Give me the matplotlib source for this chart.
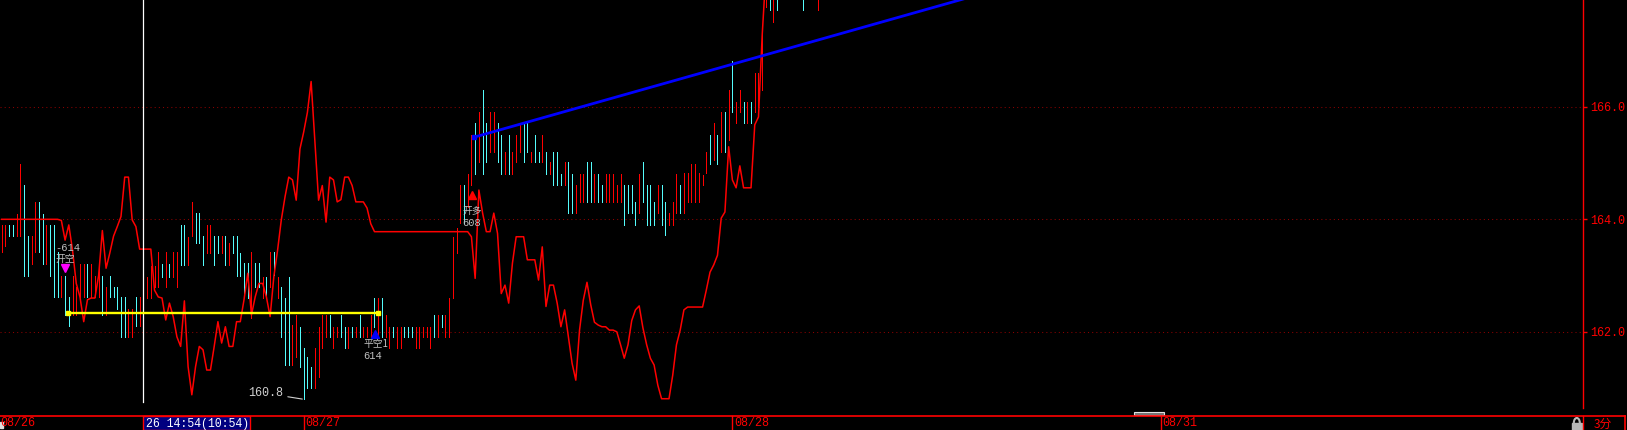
import numpy as np
import matplotlib
matplotlib.use("Agg")
import matplotlib.pyplot as plt
from matplotlib.transforms import blended_transform_factory
from matplotlib.patches import Rectangle, Arc
from matplotlib.lines import Line2D

plt.rcParams['font.family'] = ['Noto Sans CJK SC', 'DejaVu Sans']
MONO = ['Liberation Mono', 'DejaVu Sans Mono']
CJK = ['Noto Sans CJK SC', 'DejaVu Sans']

nan = np.nan
# ---------------- data (3-minute bars, index = bar number) ----------------
bar_high = [
    163.90, 163.90, 163.90, 163.90, 164.09, 164.99, 164.61, 163.70, 163.70, 164.31,
    164.31, 164.09, 163.90, 163.90, 163.90, 163.41, 162.99, 162.99, 162.61, 162.99,
    162.80, 163.20, 163.20, 163.20, 163.20, 162.99, 163.20, 162.99, 162.80, 162.99,
    162.80, 162.80, 162.61, 162.61, 162.40, 162.40, 162.61, 162.61, 162.61, 162.98,
    163.17, 163.17, 163.41, 163.21, 163.41, 163.21, 163.41, 163.41, 163.90, 163.90,
    163.69, 164.31, 164.11, 164.11, 163.70, 163.90, 163.90, 163.70, 163.70, 163.70,
    163.70, 163.58, 163.70, 163.70, 163.40, 163.22, 163.22, 163.42, 163.22, 163.22,
    162.98, 162.98, 163.42, 163.42, 162.98, 162.80, 162.60, 162.98, 162.12, 162.30,
    162.09, 161.71, 161.56, 161.38, 161.71, 162.09, 162.30, 162.30, 162.30, 162.09,
    162.09, 162.30, 162.09, 162.09, 162.09, 162.09, 162.30, 162.09, 162.09, 162.30,
    162.60, 162.60, 162.60, 162.30, 162.09, 162.09, 162.09, 162.09, 162.09, 162.09,
    162.09, 162.09, 162.09, 162.09, 162.09, 162.09, 162.30, 162.30, 162.30, 162.30,
    162.60, 163.69, 163.85, 164.61, 164.61, 164.81, 165.50, 165.72, 165.91, 166.30,
    165.72, 165.91, 165.91, 165.72, 165.50, 165.20, 165.50, 165.20, 165.50, 165.72,
    165.72, 165.72, 165.20, 165.50, 165.20, 165.50, 165.20, 165.01, 165.20, 165.20,
    164.81, 165.01, 165.01, 164.81, 164.61, 164.81, 164.81, 165.01, 165.01, 164.81,
    164.81, 164.61, 164.81, 164.81, 164.81, 164.61, 164.81, 164.61, 164.61, 164.61,
    164.31, 164.81, 165.01, 164.61, 164.61, 164.31, 164.61, 164.61, 164.31, 164.11,
    164.31, 164.81, 164.61, 164.82, 164.82, 164.99, 164.99, 164.82, 164.79, 165.20,
    165.50, 165.71, 165.50, 165.91, 165.91, 166.30, 166.81, 166.09, 166.30, 166.09,
    166.09, 166.09, 166.60, 166.60, 167.31, 168.30, 168.30, 168.30, 168.30, nan,
    nan, nan, nan, nan, nan, 168.30, nan, nan, nan, 168.30,
]
bar_low = [
    163.41, 163.52, 163.70, 163.70, 163.70, 163.70, 162.99, 162.99, 163.20, 163.41,
    163.41, 163.20, 163.20, 162.99, 162.61, 162.61, 162.61, 162.30, 162.10, 162.30,
    162.30, 162.61, 162.61, 162.61, 162.61, 162.61, 162.61, 162.30, 162.30, 162.61,
    162.61, 162.40, 161.91, 161.91, 161.91, 161.91, 162.10, 162.10, 162.10, 162.60,
    162.60, 162.80, 162.80, 162.98, 162.80, 162.98, 162.98, 162.80, 163.19, 163.19,
    163.19, 163.70, 163.58, 163.58, 163.19, 163.40, 163.40, 163.19, 163.40, 163.40,
    163.19, 163.19, 163.40, 162.99, 162.99, 162.63, 162.60, 162.24, 162.80, 162.80,
    162.60, 162.60, 162.80, 163.01, 162.60, 161.91, 161.41, 161.41, 161.41, 161.56,
    161.38, 160.80, 161.00, 161.00, 161.00, 161.20, 161.71, 161.91, 161.91, 161.71,
    161.91, 161.91, 161.71, 161.71, 161.91, 161.91, 161.91, 161.91, 161.91, 161.91,
    162.09, 161.91, 161.91, 161.91, 161.71, 161.91, 161.71, 161.71, 161.91, 161.91,
    161.91, 161.71, 161.71, 161.91, 161.91, 161.71, 161.91, 161.91, 162.09, 161.91,
    161.91, 162.60, 163.40, 163.93, 163.93, 164.22, 164.61, 164.81, 165.01, 164.81,
    165.01, 165.20, 165.20, 165.01, 164.81, 164.81, 164.81, 164.81, 165.01, 165.20,
    165.01, 165.20, 165.01, 165.01, 165.01, 165.01, 164.81, 164.81, 164.61, 164.61,
    164.61, 164.61, 164.11, 164.11, 164.11, 164.31, 164.31, 164.31, 164.31, 164.31,
    164.31, 164.31, 164.31, 164.31, 164.31, 164.31, 164.31, 163.90, 164.11, 164.11,
    163.90, 164.11, 164.31, 163.90, 163.90, 163.90, 164.11, 163.90, 163.72, 163.90,
    163.90, 164.11, 164.11, 164.11, 164.31, 164.31, 164.31, 164.31, 164.61, 164.82,
    164.99, 165.05, 164.99, 165.20, 165.20, 165.41, 165.91, 165.71, 165.91, 165.71,
    165.71, 165.71, 165.91, 166.00, 166.30, 167.78, 167.72, 167.51, 167.72, nan,
    nan, nan, nan, nan, nan, 167.72, nan, nan, nan, 167.72,
]
bar_up = [
    1, 1, 0, 0, 1, 1, 0, 0, 1, 1,
    0, 0, 1, 0, 0, 0, 1, 0, 0, 1,
    1, 1, 1, 0, 1, 1, 1, 0, 1, 0,
    0, 0, 0, 0, 1, 1, 0, 1, 0, 1,
    1, 1, 1, 0, 1, 0, 1, 1, 0, 0,
    1, 1, 0, 0, 0, 1, 1, 0, 0, 1,
    0, 1, 0, 0, 0, 0, 0, 1, 0, 0,
    1, 0, 1, 0, 1, 0, 0, 0, 1, 1,
    0, 0, 0, 0, 1, 1, 1, 1, 0, 1,
    1, 0, 0, 1, 0, 1, 0, 1, 1, 1,
    0, 1, 0, 1, 1, 0, 1, 1, 0, 0,
    0, 1, 1, 1, 1, 1, 0, 1, 0, 1,
    1, 1, 1, 1, 0, 1, 1, 0, 1, 0,
    0, 1, 1, 0, 0, 1, 0, 1, 1, 1,
    0, 0, 1, 0, 0, 1, 0, 1, 0, 0,
    0, 1, 0, 0, 1, 1, 1, 0, 0, 1,
    0, 0, 1, 1, 1, 1, 1, 0, 0, 0,
    0, 1, 0, 0, 0, 0, 1, 0, 0, 1,
    1, 1, 0, 1, 1, 1, 1, 1, 1, 1,
    0, 1, 0, 1, 0, 1, 0, 1, 1, 0,
    1, 0, 1, 1, 1, 1, 0, 1, 0, 0,
    0, 0, 0, 0, 0, 0, 0, 0, 0, 1,
]
# red indicator line, one value per bar
line_vals = [
    164.00, 164.00, 164.00, 164.00, 164.00, 164.00, 164.00, 164.00, 164.00, 164.00,
    164.00, 164.00, 164.00, 164.00, 164.00, 164.00, 163.98, 163.63, 163.90, 163.45,
    162.86, 162.62, 162.18, 162.57, 162.60, 162.60, 163.00, 163.80, 163.13, 163.40,
    163.70, 163.87, 164.05, 164.75, 164.75, 163.99, 163.87, 163.47, 163.47, 163.47,
    163.47, 162.74, 162.62, 162.60, 162.21, 162.51, 162.27, 161.91, 161.74, 162.55,
    161.38, 160.88, 161.38, 161.74, 161.68, 161.32, 161.32, 161.74, 162.18, 161.80,
    162.09, 161.74, 161.74, 162.18, 162.18, 162.57, 163.04, 162.30, 162.62, 162.86,
    162.86, 162.62, 162.27, 162.98, 163.45, 163.99, 164.40, 164.75, 164.70, 164.34,
    165.25, 165.55, 165.90, 166.45, 165.40, 164.34, 164.60, 163.95, 164.75, 164.70,
    164.31, 164.35, 164.75, 164.75, 164.60, 164.31, 164.31, 164.31, 164.20, 163.92,
    163.78, 163.78, 163.78, 163.78, 163.78, 163.78, 163.78, 163.78, 163.78, 163.78,
    163.78, 163.78, 163.78, 163.78, 163.78, 163.78, 163.78, 163.78, 163.78, 163.78,
    163.78, 163.78, 163.78, 163.78, 163.78, 163.78, 163.69, 162.95, 164.52, 164.11,
    163.78, 163.78, 164.11, 163.75, 162.68, 162.83, 162.51, 163.22, 163.69, 163.69,
    163.69, 163.28, 163.28, 163.28, 162.92, 163.51, 162.45, 162.83, 162.83, 162.51,
    162.09, 162.39, 161.91, 161.44, 161.14, 162.03, 162.56, 162.88, 162.48, 162.17,
    162.12, 162.09, 162.09, 162.03, 162.03, 162.00, 161.77, 161.53, 161.77, 162.20,
    162.39, 162.46, 162.07, 161.77, 161.53, 161.41, 161.05, 160.81, 160.81, 160.81,
    161.23, 161.77, 162.03, 162.39, 162.44, 162.44, 162.44, 162.44, 162.44, 162.74,
    163.06, 163.19, 163.36, 164.02, 164.13, 165.29, 164.70, 164.56, 164.95, 164.56,
    164.56, 164.56, 165.68, 165.82, 167.28, 168.40,
]
price_ticks = [162.0, 164.0, 166.0]
day_labels = ['08/27', '08/28', '08/31']
day_index = [81, 196, 311]
first_day_label = '08/26'
crosshair_index = 38
crosshair_text = '26 14:54(10:54)'
# trade signals (bar index, price)
short_open = (17.1, 163.13)
short_close = (100.2, 161.96)
long_open = (126.2, 164.43)
low_point = (81, 160.8)
# drawn lines
level_x = [17.7, 100.9]
level_y = [162.34, 162.34]
trend_x = [126.7, 256.5]
trend_y = [165.46, 167.89]

# ---------------- figure ----------------
W, H = 1627, 430
fig = plt.figure(figsize=(W / 100, H / 100), dpi=100, facecolor='black')
ax = fig.add_axes([0, 14 / H, 1583 / W, 416 / H])
ax.set_facecolor('black')
ax.set_xlim(-0.456, 424.17)
ax.set_ylim(160.503, 167.899)

RED = '#FF0000'
CYAN = '#54FCFC'
GRAY = '#C0C0C0'

# grid
for t in price_ticks:
    ax.axhline(t, color='#8B0000', lw=0.75, ls=(0, (1, 3)), zorder=1)

# bars
hi = np.array(bar_high)
lo = np.array(bar_low)
up = np.array(bar_up, dtype=bool)
idx = np.arange(len(hi))
ok = ~np.isnan(hi)
ax.vlines(idx[ok & up], lo[ok & up], hi[ok & up], colors=RED, lw=0.5,
          antialiased=False, zorder=3)
ax.vlines(idx[ok & ~up], lo[ok & ~up], hi[ok & ~up], colors=CYAN, lw=0.5,
          antialiased=False, zorder=3)

# indicator line
ax.plot(np.arange(len(line_vals)), line_vals, color=RED, lw=1.1, zorder=4)

# crosshair
ax.axvline(crosshair_index, ymin=14 / 416, ymax=1, color='white', lw=0.9, zorder=5)

# yellow level line
ax.plot(level_x, level_y, color='#FFFF00', lw=1.7, zorder=6,
        marker='s', ms=3, mfc='#FFFF00', mec='#FFFF00')

# blue trend line, extended to the right edge
slope = (trend_y[1] - trend_y[0]) / (trend_x[1] - trend_x[0])
x_end = ax.get_xlim()[1]
ax.plot([trend_x[0], x_end], [trend_y[0], trend_y[0] + slope * (x_end - trend_x[0])],
        color='#0000FF', lw=2.0, zorder=6)
ax.plot([trend_x[0]], [trend_y[0]], marker='s', ms=3.2, color='#0000FF', zorder=6)

# signals
ax.plot(*short_open, marker='v', ms=5.5, color='#FF00FF', zorder=7)
ax.plot(*short_close, marker='^', ms=5.5, color='#0000FF', zorder=7)
ax.plot(*long_open, marker='^', ms=5.5, color=RED, zorder=7)

def label(txt, xy, dx, dy, fam, size):
    ax.annotate(txt, xy=xy, xytext=(dx, dy), textcoords='offset pixels',
                ha='left', va='center', color=GRAY, fontsize=size,
                family=fam, zorder=8)

label('-614', short_open, -10, 20, MONO, 7.5)
label('开空', short_open, -10, 9, CJK, 7)
label('开多', long_open, -10, -16, CJK, 7)
label('608', long_open, -10, -28, MONO, 7.5)
label('平空1', short_close, -12, -9.5, CJK, 7)
label('614', short_close, -12, -21.5, MONO, 7.5)

ax.annotate('160.8', xy=low_point, xytext=(-20, 6), textcoords='offset pixels',
            ha='right', va='center', color='#D0D0D0', fontsize=8.5, family=MONO,
            arrowprops=dict(arrowstyle='-', color='#D0D0D0', lw=0.8,
                            shrinkA=1, shrinkB=1), zorder=8)

# axes styling
for s in ['left', 'top', 'bottom']:
    ax.spines[s].set_visible(False)
ax.spines['right'].set_color(RED)
ax.spines['right'].set_linewidth(1.0)
ax.spines['right'].set_bounds(160.645, 167.899)
ax.set_xticks([])
ax.yaxis.tick_right()
ax.set_yticks(price_ticks)
ax.set_yticklabels(['%.1f' % t for t in price_ticks], family=MONO, fontsize=8.5)
ax.tick_params(axis='y', colors=RED, length=3, width=1, pad=2, labelcolor=RED)

# ---------------- bottom strip ----------------
strip_y = 14 / H
fig.add_artist(Line2D([0, 1625 / W], [strip_y, strip_y], color=RED, lw=1.2,
                      transform=fig.transFigure))
blend = blended_transform_factory(ax.transData, fig.transFigure)
for lab, di in zip(day_labels, day_index):
    fig.add_artist(Line2D([di, di], [0, strip_y], color=RED, lw=1.0, transform=blend))
    ax.annotate(lab, xy=(di, 6.5 / H), xycoords=blend, xytext=(1.5, 0),
                textcoords='offset pixels', ha='left', va='center',
                color=RED, fontsize=8.5, family=MONO, annotation_clip=False)
fig.text(0.5 / W, 6.5 / H, first_day_label, ha='left', va='center', color=RED,
         fontsize=8.5, family=MONO)
fig.add_artist(Rectangle((0, 2 / H), 2.5 / W, 6 / H, color='#E0E0E0',
                         transform=fig.transFigure))

# crosshair time box
fig.canvas.draw()
cx = ax.transData.transform((crosshair_index, 161))[0] / fig.bbox.width
fig.add_artist(Rectangle((cx, 0), 106.5 / W, 14 / H, fc='#000080', ec=RED, lw=1.0,
                         transform=fig.transFigure))
fig.text(cx + 2.5 / W, 6.5 / H, crosshair_text, ha='left', va='center',
         color='white', fontsize=8.3, family=MONO)

# right area of strip
fig.add_artist(Line2D([1583 / W, 1583 / W], [0, strip_y], color=RED, lw=1.0,
                      transform=fig.transFigure))
fig.add_artist(Line2D([1625 / W, 1625 / W], [0, strip_y], color=RED, lw=1.2,
                      transform=fig.transFigure))
fig.text(1603 / W, 6 / H, '3分', ha='center', va='center', color=RED,
         fontsize=8.5, family=CJK)
# lock icon
fig.add_artist(Rectangle((1572 / W, 0), 9.5 / W, 7 / H, color='#B8B8B8',
                         transform=fig.transFigure))
fig.add_artist(Arc((1576.8 / W, 7 / H), 6 / W, 10 / H, theta1=0, theta2=180,
                   color='#B8B8B8', lw=1.5, transform=fig.transFigure))
# scroll thumb
fig.add_artist(Rectangle((1134 / W, 15 / H), 30 / W, 3 / H, fc='#707070',
                         ec='#E0E0E0', lw=0.8, transform=fig.transFigure))

fig.savefig('out.png', dpi=100, facecolor='black')
